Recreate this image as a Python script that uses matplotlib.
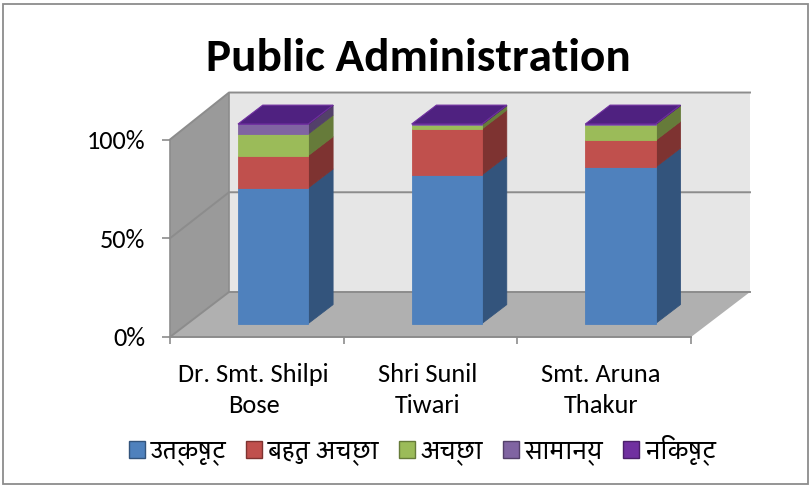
#!/usr/bin/python
import matplotlib
matplotlib.use('Agg')
from matplotlib import pyplot
from matplotlib.patches import Polygon, Patch, Rectangle

categories = ['Dr. Smt. Shilpi\nBose', 'Shri Sunil\nTiwari', 'Smt. Aruna\nThakur']
series = ['उत्कृष्ट', 'बहुत अच्छा', 'अच्छा', 'सामान्य', 'निकृष्ट']
utkrisht = [68.0, 74.5, 78.4]
bahut_achha = [16.2, 23.0, 13.4]
achha = [10.8, 2.2, 7.9]
samanya = [4.8, 0.1, 0.1]
nikrisht = [0.2, 0.2, 0.2]
yticks = [0, 50, 100]
ytick_labels = ['0%', '50%', '100%']

front = ['#4f81bd', '#c0504d', '#9bbb59', '#8064a2', '#7030a0']
side = ['#33547c', '#7e3331', '#667b3a', '#53406a', '#4a1f6a']
top_color = '#4f2180'

W, H = 811, 487
DX, DY = 59 / 173.67, 45 / 1.975   # wall depth in data units
BACK = 1.01                        # back of the box is drawn a bit taller
Z0, Z1 = 0.30, 0.72                # bar front/back as a fraction of depth
BAR = 0.405

pyplot.rcParams['font.family'] = ['Carlito', 'Lato', 'DejaVu Sans']
fig = pyplot.figure(figsize=(W / 100, H / 100), dpi=100)
fig.patches.append(Rectangle((2.5 / W, 3.5 / H), 805 / W, 480 / H, transform=fig.transFigure,
                             fc='white', ec='#8c8c8c', lw=1.3, zorder=-1))
ax = fig.add_axes([170 / W, (H - 337) / H, 521 / W, 197.5 / H])
ax.set_xlim(0, 3)
ax.set_ylim(0, 100)
ax.patch.set_visible(False)

def poly(pts, fc, ec='none', lw=0, z=1):
    ax.add_patch(Polygon(pts, closed=True, fc=fc, ec=ec, lw=lw, zorder=z, clip_on=False))

# walls and floor
top_back = 100 * BACK + DY
poly([(DX, DY), (3 + DX, DY), (3 + DX, top_back), (DX, top_back)], '#e6e6e6')
poly([(0, 0), (DX, DY), (DX, top_back), (0, 100)], '#9a9a9a')
poly([(0, 0), (3, 0), (3 + DX, DY), (DX, DY)], '#b0b0b0')
for v in yticks:
    ax.plot([0, DX, 3 + DX], [v, v * BACK + DY, v * BACK + DY], color='#8c8c8c', lw=1.4, zorder=2, clip_on=False)
ax.plot([DX, DX], [DY, top_back], color='#8c8c8c', lw=1.2, zorder=2, clip_on=False)
ax.plot([0, 0], [0, 100], color='#8c8c8c', lw=1.2, zorder=2, clip_on=False)
ax.plot([0, 3], [0, 0], color='#8c8c8c', lw=1.4, zorder=2, clip_on=False)

# stacked bars
values = [utkrisht, bahut_achha, achha, samanya, nikrisht]
for i in range(len(categories)):
    x0 = i + 0.492 - BAR / 2 + Z0 * DX
    x1 = x0 + BAR
    off = (Z1 - Z0) * DX
    y_off = Z0 * DY
    d_y = (Z1 - Z0) * DY
    base = 0
    for j, vals in enumerate(values):
        v = vals[i] * BACK
        y0, y1 = base + y_off, base + v + y_off
        poly([(x1, y0), (x1 + off, y0 + d_y), (x1 + off, y1 + d_y), (x1, y1)], side[j], ec=side[j], lw=0.6, z=3)
        poly([(x0, y0), (x1, y0), (x1, y1), (x0, y1)], front[j], ec=front[j], lw=0.6, z=4)
        base += v
    yt = base + y_off
    poly([(x0, yt), (x1, yt), (x1 + off, yt + d_y), (x0 + off, yt + d_y)], top_color, ec='#7030a0', lw=0.8, z=5)

ax.set_yticks(yticks)
ax.set_yticklabels(ytick_labels, fontsize=19)
ax.set_xticks([0, 1, 2, 3])
ax.set_xticklabels([])
ax.tick_params(axis='y', length=5.8, width=1.2, color='#8c8c8c', pad=12)
ax.tick_params(axis='x', length=5, width=1.2, color='#8c8c8c')
for s in ax.spines.values():
    s.set_visible(False)
for i, c in enumerate(categories):
    ax.annotate(c, (i + 0.5, 0), xytext=(-2.2, -19), textcoords='offset points', ha='center', va='top',
                fontsize=19, linespacing=1.39)

fig.text(418 / W, (H - 58) / H, 'Public Administration', ha='center', va='center',
         fontsize=34, fontweight='bold')

handles = [Patch(fc=front[j], ec=side[j], label=series[j]) for j in range(len(series))]
fig.legend(handles=handles, ncol=5, loc='center', bbox_to_anchor=(422.5 / W, (H - 449.5) / H), frameon=False,
           prop={'family': ['Sarala', 'Yantramanav', 'DejaVu Sans'], 'size': 18},
           handlelength=0.64, handleheight=0.64, handletextpad=0.24, columnspacing=0.78)

pyplot.savefig('out.png', dpi=100)
